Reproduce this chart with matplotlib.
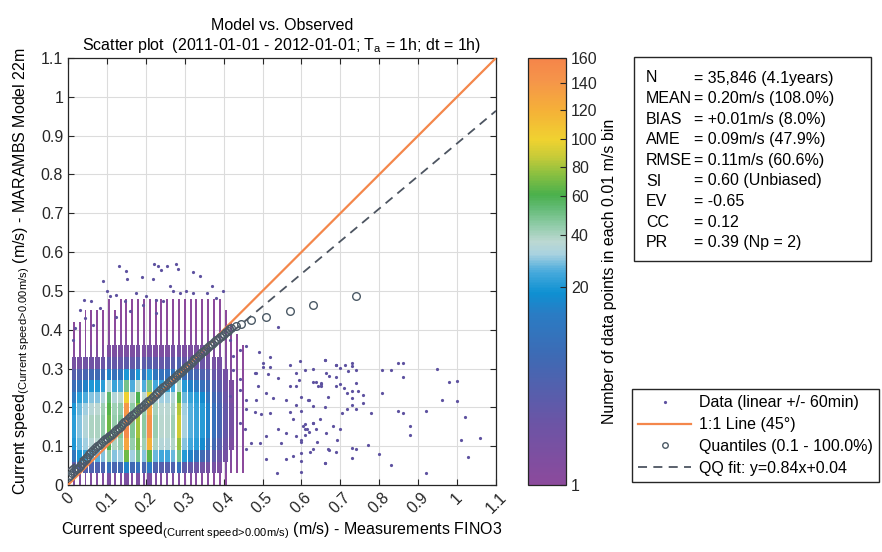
import numpy as np
import matplotlib
matplotlib.use('Agg')
import matplotlib.pyplot as plt
from matplotlib.colors import LinearSegmentedColormap, Normalize
from matplotlib.cm import ScalarMappable
from matplotlib.lines import Line2D
from matplotlib.patches import Rectangle

plt.rcParams['font.family'] = ['Liberation Sans', 'DejaVu Sans']
plt.rcParams['mathtext.fontset'] = 'custom'
plt.rcParams['mathtext.rm'] = 'Liberation Sans'
plt.rcParams['mathtext.it'] = 'Liberation Sans:italic'
plt.rcParams['mathtext.bf'] = 'Liberation Sans:bold'

# ---------------- data ----------------
col_x = [0.015, 0.030, 0.045, 0.060, 0.075, 0.090, 0.105, 0.120, 0.135, 0.150,
         0.165, 0.180, 0.195, 0.210, 0.225, 0.240, 0.255, 0.270, 0.285, 0.300,
         0.315, 0.330, 0.345, 0.360, 0.375, 0.390, 0.405, 0.420, 0.435, 0.450]
bin_bottom = [0.00, 0.03, 0.06, 0.09, 0.12, 0.15, 0.18, 0.21,
              0.24, 0.27, 0.30, 0.33, 0.36, 0.39, 0.42, 0.45]
bin_height = 0.03
counts = [
    [3, 9, 16, 20, 22, 22, 20, 17, 14, 10, 5, 2, 1, 1, 0, 0],
    [3, 10, 20, 28, 30, 30, 28, 22, 16, 11, 5, 2, 1, 1, 0, 0],
    [3, 11, 24, 32, 35, 35, 32, 26, 18, 12, 6, 3, 1, 1, 1, 0],
    [3, 11, 27, 36, 40, 40, 36, 30, 20, 13, 6, 3, 1, 1, 1, 0],
    [3, 11, 27, 37, 40, 40, 37, 30, 20, 13, 6, 3, 1, 1, 1, 0],
    [3, 12, 30, 42, 45, 45, 42, 34, 22, 14, 7, 3, 1, 1, 1, 0],
    [4, 15, 45, 62, 68, 68, 64, 55, 35, 18, 9, 4, 2, 1, 1, 1],
    [3, 12, 30, 40, 44, 44, 42, 35, 24, 15, 8, 4, 2, 1, 1, 0],
    [3, 13, 32, 44, 48, 48, 45, 38, 26, 16, 8, 4, 2, 1, 1, 1],
    [4, 18, 70, 130, 155, 155, 140, 100, 50, 20, 9, 4, 2, 1, 1, 1],
    [3, 13, 32, 44, 48, 48, 45, 38, 26, 16, 8, 4, 2, 1, 1, 1],
    [4, 15, 50, 72, 80, 80, 75, 60, 38, 20, 10, 5, 2, 1, 1, 1],
    [3, 12, 30, 42, 46, 46, 44, 37, 26, 16, 9, 4, 2, 1, 1, 1],
    [4, 17, 65, 120, 145, 145, 130, 95, 50, 22, 10, 5, 2, 1, 1, 1],
    [3, 11, 28, 40, 43, 43, 41, 35, 25, 16, 9, 4, 2, 1, 1, 1],
    [3, 10, 25, 35, 38, 38, 37, 32, 23, 15, 8, 4, 2, 1, 1, 1],
    [3, 10, 25, 35, 38, 38, 37, 32, 23, 15, 9, 4, 2, 1, 1, 1],
    [3, 11, 28, 39, 42, 42, 40, 35, 25, 16, 9, 5, 2, 1, 1, 1],
    [3, 15, 50, 78, 90, 90, 84, 65, 40, 22, 11, 5, 2, 1, 1, 1],
    [2, 9, 21, 30, 33, 33, 32, 28, 21, 14, 8, 4, 2, 1, 1, 1],
    [2, 8, 18, 25, 27, 27, 27, 24, 18, 13, 8, 4, 2, 1, 1, 1],
    [2, 7, 16, 22, 24, 24, 24, 22, 17, 12, 7, 4, 2, 1, 1, 1],
    [2, 6, 13, 19, 21, 21, 21, 19, 15, 11, 7, 4, 2, 1, 1, 1],
    [2, 5, 11, 16, 18, 18, 18, 16, 13, 10, 6, 4, 2, 1, 1, 1],
    [1, 5, 9, 13, 15, 15, 15, 13, 11, 8, 5, 3, 2, 1, 1, 1],
    [1, 4, 7, 10, 12, 12, 12, 11, 9, 7, 5, 3, 2, 1, 1, 1],
    [1, 3, 5, 7, 8, 8, 8, 7, 6, 5, 3, 2, 1, 1, 1, 0],
    [0, 2, 3, 4, 5, 5, 5, 4, 4, 3, 2, 2, 1, 1, 0, 0],
    [0, 1, 2, 3, 3, 3, 3, 3, 3, 2, 2, 1, 1, 0, 0, 0],
    [0, 1, 1, 2, 2, 2, 2, 2, 2, 1, 1, 1, 0, 0, 0, 0],
]

sparse_x = [0.131, 0.150, 0.152, 0.090, 0.189, 0.221, 0.231, 0.240, 0.254, 0.278, 0.283, 0.320, 0.338,
            0.219, 0.261, 0.270, 0.040, 0.030, 0.060, 0.081, 0.099, 0.107, 0.124, 0.146, 0.176, 0.201,
            0.287, 0.304, 0.321, 0.356, 0.371, 0.398, 0.381, 0.193, 0.244, 0.227, 0.159, 0.017, 0.043,
            0.013, 0.064, 0.124, 0.227,
            0.540, 0.490, 0.520, 0.500, 0.500, 0.518, 0.480, 0.540, 0.570, 0.596, 0.660, 0.690, 0.587,
            0.594, 0.570, 0.587, 0.638, 0.649, 0.664, 0.488, 0.510, 0.527, 0.484, 0.458, 0.458, 0.480,
            0.497, 0.518, 0.561, 0.587, 0.617, 0.570, 0.578, 0.604, 0.630, 0.647, 0.664, 0.691, 0.667,
            0.638, 0.600, 0.561, 0.540, 0.510, 0.471, 0.454, 0.441, 0.458, 0.493, 0.510, 0.536, 0.561,
            0.578, 0.621, 0.660, 0.441, 0.441, 0.424, 0.416, 0.424, 0.441, 0.458, 0.416, 0.484, 0.514,
            0.613, 0.587, 0.548,
            0.660, 0.630, 0.609, 0.671, 0.690, 0.699, 0.711, 0.729, 0.729, 0.740, 0.720, 0.690, 0.630,
            0.651, 0.643, 0.651, 0.690, 0.700, 0.709, 0.716, 0.729, 0.740, 0.746, 0.758, 0.758, 0.729,
            0.729, 0.716, 0.703, 0.740, 0.780, 0.808, 0.829, 0.849, 0.860, 0.860, 0.808, 0.849, 0.860,
            0.879, 0.879, 0.919, 0.949, 0.980, 0.999, 0.999, 0.960, 1.020, 1.009, 1.028, 1.058, 0.919,
            0.829, 0.799, 0.770, 0.729, 0.740, 0.729, 0.699, 0.680, 0.690, 0.671, 0.660, 0.640, 0.630,
            0.630, 0.609, 0.609, 0.620, 0.609, 0.600, 0.600, 0.600, 0.600, 0.600, 0.600, 0.619, 0.630,
            0.660, 0.669]
sparse_y = [0.563, 0.552, 0.530, 0.526, 0.537, 0.569, 0.565, 0.554, 0.563, 0.569, 0.556, 0.548, 0.539,
            0.530, 0.512, 0.499, 0.477, 0.452, 0.473, 0.456, 0.500, 0.486, 0.490, 0.473, 0.494, 0.486,
            0.494, 0.499, 0.494, 0.494, 0.513, 0.499, 0.482, 0.464, 0.473, 0.443, 0.447, 0.404, 0.430,
            0.374, 0.413, 0.434, 0.477,
            0.406, 0.343, 0.330, 0.314, 0.304, 0.304, 0.289, 0.276, 0.310, 0.319, 0.323, 0.308, 0.289,
            0.270, 0.255, 0.255, 0.266, 0.261, 0.289, 0.255, 0.237, 0.225, 0.220, 0.220, 0.195, 0.188,
            0.182, 0.186, 0.219, 0.205, 0.220, 0.188, 0.169, 0.152, 0.160, 0.169, 0.135, 0.117, 0.092,
            0.143, 0.116, 0.135, 0.143, 0.126, 0.109, 0.143, 0.160, 0.092, 0.109, 0.066, 0.032, 0.066,
            0.075, 0.085, 0.057, 0.272, 0.246, 0.297, 0.229, 0.332, 0.349, 0.357, 0.374, 0.289, 0.286,
            0.143, 0.126, 0.109,
            0.321, 0.299, 0.296, 0.282, 0.310, 0.302, 0.310, 0.313, 0.306, 0.296, 0.293, 0.278, 0.265,
            0.263, 0.254, 0.254, 0.254, 0.259, 0.250, 0.237, 0.242, 0.263, 0.242, 0.233, 0.212, 0.225,
            0.207, 0.195, 0.186, 0.195, 0.186, 0.297, 0.297, 0.314, 0.314, 0.278, 0.236, 0.190, 0.186,
            0.153, 0.128, 0.190, 0.299, 0.265, 0.268, 0.216, 0.219, 0.176, 0.116, 0.073, 0.122, 0.030,
            0.051, 0.081, 0.102, 0.096, 0.092, 0.070, 0.143, 0.153, 0.085, 0.090, 0.056, 0.111, 0.093,
            0.160, 0.156, 0.143, 0.136, 0.130, 0.111, 0.083, 0.062, 0.033, 0.226, 0.190, 0.219, 0.203,
            0.201, 0.227]

quant_x = [0.000, 0.005, 0.010, 0.015, 0.020, 0.025, 0.030, 0.035, 0.040, 0.045, 0.050, 0.055,
           0.060, 0.065, 0.070, 0.075, 0.080, 0.085, 0.090, 0.095, 0.100, 0.105, 0.110, 0.115,
           0.120, 0.125, 0.130, 0.135, 0.140, 0.145, 0.150, 0.155, 0.160, 0.165, 0.170, 0.175,
           0.180, 0.185, 0.190, 0.195, 0.200, 0.205, 0.210, 0.215, 0.220, 0.225, 0.230, 0.235,
           0.240, 0.245, 0.250, 0.255, 0.260, 0.265, 0.270, 0.275, 0.280, 0.285, 0.290, 0.295,
           0.300, 0.305, 0.310, 0.315, 0.320, 0.325, 0.330, 0.335, 0.340, 0.345, 0.350, 0.355,
           0.360, 0.365, 0.370, 0.375, 0.380, 0.385, 0.390, 0.395, 0.400, 0.405, 0.410, 0.415,
           0.420, 0.432, 0.445, 0.470, 0.510, 0.570, 0.630, 0.740]
quant_y = [0.020, 0.025, 0.030, 0.035, 0.040, 0.045, 0.050, 0.056, 0.062, 0.067, 0.073, 0.079,
           0.085, 0.090, 0.095, 0.100, 0.104, 0.109, 0.113, 0.118, 0.122, 0.126, 0.130, 0.135,
           0.139, 0.144, 0.148, 0.153, 0.157, 0.162, 0.166, 0.171, 0.175, 0.180, 0.184, 0.189,
           0.193, 0.198, 0.202, 0.207, 0.211, 0.216, 0.220, 0.225, 0.229, 0.234, 0.238, 0.243,
           0.247, 0.252, 0.256, 0.261, 0.265, 0.270, 0.274, 0.279, 0.283, 0.288, 0.292, 0.297,
           0.301, 0.306, 0.310, 0.315, 0.319, 0.324, 0.328, 0.333, 0.337, 0.342, 0.346, 0.351,
           0.355, 0.360, 0.364, 0.369, 0.373, 0.377, 0.381, 0.385, 0.389, 0.393, 0.397, 0.401,
           0.404, 0.410, 0.415, 0.424, 0.432, 0.447, 0.464, 0.486]

fit_slope = 0.84
fit_intercept = 0.04
line_x = [0.0, 1.1]

cbar_values = [1, 20, 40, 60, 80, 100, 120, 140, 160]
cbar_fracs = [0.0, 0.464, 0.585, 0.677, 0.744, 0.810, 0.878, 0.941, 1.0]
cmap_anchor = [(0.00, '#8C4A9C'), (0.15, '#6A55A6'), (0.30, '#3E6AB4'), (0.40, '#2A7CC4'),
               (0.45, '#0E90D2'), (0.50, '#48AADC'), (0.54, '#A8D2E0'), (0.57, '#BCD8D2'),
               (0.61, '#8ECBA6'), (0.65, '#62BA74'), (0.68, '#4AB04C'), (0.73, '#8CC040'),
               (0.77, '#C8CB38'), (0.81, '#F0D230'), (0.88, '#F5B038'), (0.95, '#F5944A'),
               (1.00, '#F5854A')]

stats_labels = ['N', 'MEAN', 'BIAS', 'AME', 'RMSE', 'SI', 'EV', 'CC', 'PR']
stats_values = ['35,846 (4.1years)', '0.20m/s (108.0%)', '+0.01m/s (8.0%)', '0.09m/s (47.9%)',
                '0.11m/s (60.6%)', '0.60 (Unbiased)', '-0.65', '0.12', '0.39 (Np = 2)']
legend_labels = ['Data (linear +/- 60min)', '1:1 Line (45\u00b0)', 'Quantiles (0.1 - 100.0%)',
                 'QQ fit: y=0.84x+0.04']
x_ticks = [0, 0.1, 0.2, 0.3, 0.4, 0.5, 0.6, 0.7, 0.8, 0.9, 1.0, 1.1]

# ---------------- figure ----------------
W, H = 882, 552
fig = plt.figure(figsize=(W / 100, H / 100), dpi=100)
FS = 11.5

cmap = LinearSegmentedColormap.from_list('dens', cmap_anchor, N=256)

def frac(v):
    return np.interp(v, cbar_values, cbar_fracs)

ax = fig.add_axes([68 / W, 1 - 485 / H, 428 / W, 427 / H])
ax.set_xlim(0, 1.1)
ax.set_ylim(0, 1.1)
ax.grid(True, color='#DCDCDC', lw=0.8, zorder=0)
ax.set_axisbelow(True)

# density cells (low-count cells drawn as thin strips)
bx, bb, bc, bw = [], [], [], []
for i, xc in enumerate(col_x):
    for j, yb in enumerate(bin_bottom):
        c = counts[i][j]
        if c > 0:
            bx.append(xc)
            bb.append(yb)
            bc.append(cmap(frac(c)))
            bw.append(0.012 if c >= 4 else 0.005)
ax.bar(bx, bin_height, bottom=bb, width=bw, color=bc, linewidth=0, zorder=2)

ax.plot(sparse_x, sparse_y, 'o', ms=2.3, mew=0, color='#5E52A0', zorder=2)

ax.plot(line_x, line_x, color='#F4874B', lw=1.6, zorder=4)
ax.plot(quant_x, quant_y, 'o', ms=5.5, mfc='none', mec='#4C5A66', mew=1.0, zorder=5)
ax.plot(line_x, [fit_intercept + fit_slope * v for v in line_x], color='#4D5561', lw=1.3,
        ls=(0, (5, 3.5)), zorder=3)

ax.set_xticks(x_ticks)
ax.set_yticks(x_ticks)
ax.set_xticklabels(['%g' % v for v in x_ticks], rotation=45, ha='center')
ax.set_yticklabels(['%g' % v for v in x_ticks])
ax.tick_params(direction='in', top=True, right=True, length=4, width=0.8, labelsize=FS,
               colors='#262626')
for s in ax.spines.values():
    s.set_color('#262626')
    s.set_linewidth(0.9)

sub = r'$_{\mathregular{(Current\ speed\!>\!0.00m/s)}}$'
ax.set_xlabel('Current speed' + sub + ' (m/s) - Measurements FINO3', fontsize=FS, labelpad=3)
ax.set_ylabel('Current speed' + sub + ' (m/s) - MARAMBS Model 22m', fontsize=FS, labelpad=6)
ax.set_title('Model vs. Observed\n' +
             r'Scatter plot  (2011-01-01 - 2012-01-01; T$_{\mathregular{a}}$ = 1h; dt = 1h)',
             fontsize=FS, pad=6)

# colorbar
cax = fig.add_axes([528 / W, 1 - 485 / H, 38 / W, 427 / H])
sm = ScalarMappable(norm=Normalize(0, 1), cmap=cmap)
cb = fig.colorbar(sm, cax=cax, ticks=cbar_fracs)
cb.set_ticklabels([str(v) for v in cbar_values])
cb.ax.tick_params(direction='in', length=4, width=0.8, labelsize=FS, colors='#262626')
cb.outline.set_edgecolor('#262626')
cb.outline.set_linewidth(0.9)
cb.set_label('Number of data points in each 0.01 m/s bin', fontsize=FS, labelpad=3)

# statistics box
fig.patches.append(Rectangle((634 / W, 1 - 261 / H), (871 - 634) / W, (261 - 57) / H,
                             transform=fig.transFigure, fill=False, ec='#262626', lw=1.0))
for k, (lab, val) in enumerate(zip(stats_labels, stats_values)):
    yy = 1 - (78 + 20.6 * k) / H
    fig.text(646 / W, yy, lab, fontsize=FS, va='center', ha='left')
    fig.text(694 / W, yy, '= ' + val, fontsize=FS, va='center', ha='left')

# legend
handles = [Line2D([], [], marker='o', ls='none', color='#5E52A0', ms=2.3, mew=0),
           Line2D([], [], color='#F4874B', lw=1.6),
           Line2D([], [], marker='o', ls='none', mfc='none', mec='#4C5A66', ms=4, mew=1.0),
           Line2D([], [], color='#4D5561', lw=1.3, ls=(0, (5, 3.5)))]
leg = fig.legend(handles, legend_labels, loc='upper left', bbox_to_anchor=(632 / W, 1 - 389 / H),
                 frameon=True, fancybox=False, edgecolor='#262626', framealpha=1,
                 borderaxespad=0, fontsize=FS, handlelength=3.3, labelspacing=0.42,
                 handletextpad=0.5, borderpad=0.4)
leg.get_frame().set_linewidth(1.0)

fig.savefig('out.png', dpi=100)
